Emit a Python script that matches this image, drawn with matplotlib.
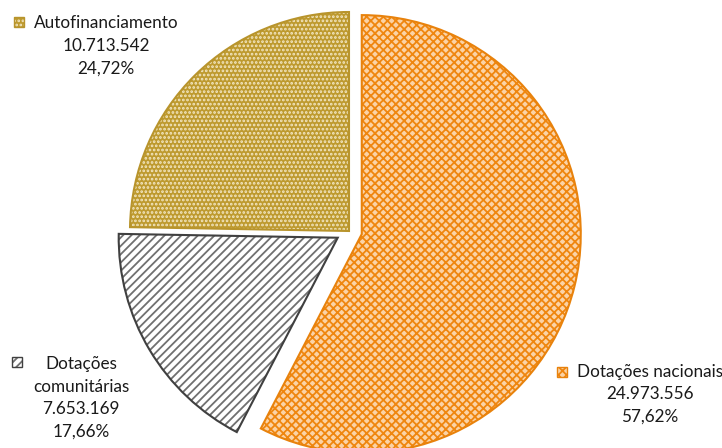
import matplotlib.pyplot as plt
from matplotlib.patches import Rectangle

plt.rcParams["font.family"] = ["Lato", "DejaVu Sans"]
plt.rcParams["hatch.linewidth"] = 1.3

# data (clockwise from 12 o'clock)
categories = ["Dotações nacionais", "Dotações\ncomunitárias", "Autofinanciamento"]
values = [24973556, 7653169, 10713542]
percent_labels = ["57,62%", "17,66%", "24,72%"]

face_colors = ["#FBD3A6", "#FFFFFF", "#BE9A2F"]
hatch_colors = ["#EF860F", "#707070", "#F3E7C4"]
edge_colors = ["#E8820C", "#404040", "#B8942C"]
hatches = ["xxxx", "////", "...."]
explode = [0.06, 0.06, 0.0]


def fmt_thousands(v):
    return f"{v:,}".replace(",", ".")


fig = plt.figure(figsize=(7.22, 4.48), dpi=100)
ax = fig.add_axes([0, 0, 1, 1])

# filled + hatched wedges
wedges, _ = ax.pie(values, startangle=90, counterclock=False, explode=explode,
                   radius=1.0)
for w, fc, hc, h in zip(wedges, face_colors, hatch_colors, hatches):
    w.set_facecolor(fc)
    w.set_edgecolor(hc)
    w.set_hatch(h)
    w.set_linewidth(0)

# outlines
outl, _ = ax.pie(values, startangle=90, counterclock=False, explode=explode,
                 radius=1.0, wedgeprops=dict(fill=False, linewidth=1.5))
for w, ec in zip(outl, edge_colors):
    w.set_edgecolor(ec)

# pixel mapping: pie centre at (349, 231) px, radius 219 px
r_px = 219.0
cx, cy = 349.0, 231.0
ax.set_aspect("auto")
ax.set_xlim(-cx / r_px, (722 - cx) / r_px)
ax.set_ylim(-(448 - cy) / r_px, cy / r_px)
ax.axis("off")


def px(x, y):
    return x / 722.0, 1 - y / 448.0


# label block centres and legend-key centres, in pixels
label_pos = [(650, 394), (81, 398), (106, 46)]
key_pos = [(562, 372), (17, 362), (19, 22)]
for i, name in enumerate(categories):
    txt = f"{name}\n{fmt_thousands(values[i])}\n{percent_labels[i]}"
    x, y = px(*label_pos[i])
    fig.text(x, y, txt, ha="center", va="center", fontsize=12.3, linespacing=1.5,
             color="#1a1a1a", transform=fig.transFigure)
    kx, ky = key_pos[i]
    k = Rectangle(px(kx - 5, ky + 5), 10 / 722, 10 / 448, transform=fig.transFigure,
                  facecolor=face_colors[i], edgecolor=hatch_colors[i], hatch=hatches[i],
                  linewidth=0)
    fig.add_artist(k)
    k2 = Rectangle(px(kx - 5, ky + 5), 10 / 722, 10 / 448, transform=fig.transFigure,
                   fill=False, edgecolor=edge_colors[i], linewidth=1.0)
    fig.add_artist(k2)

fig.savefig("out.png", dpi=100)
